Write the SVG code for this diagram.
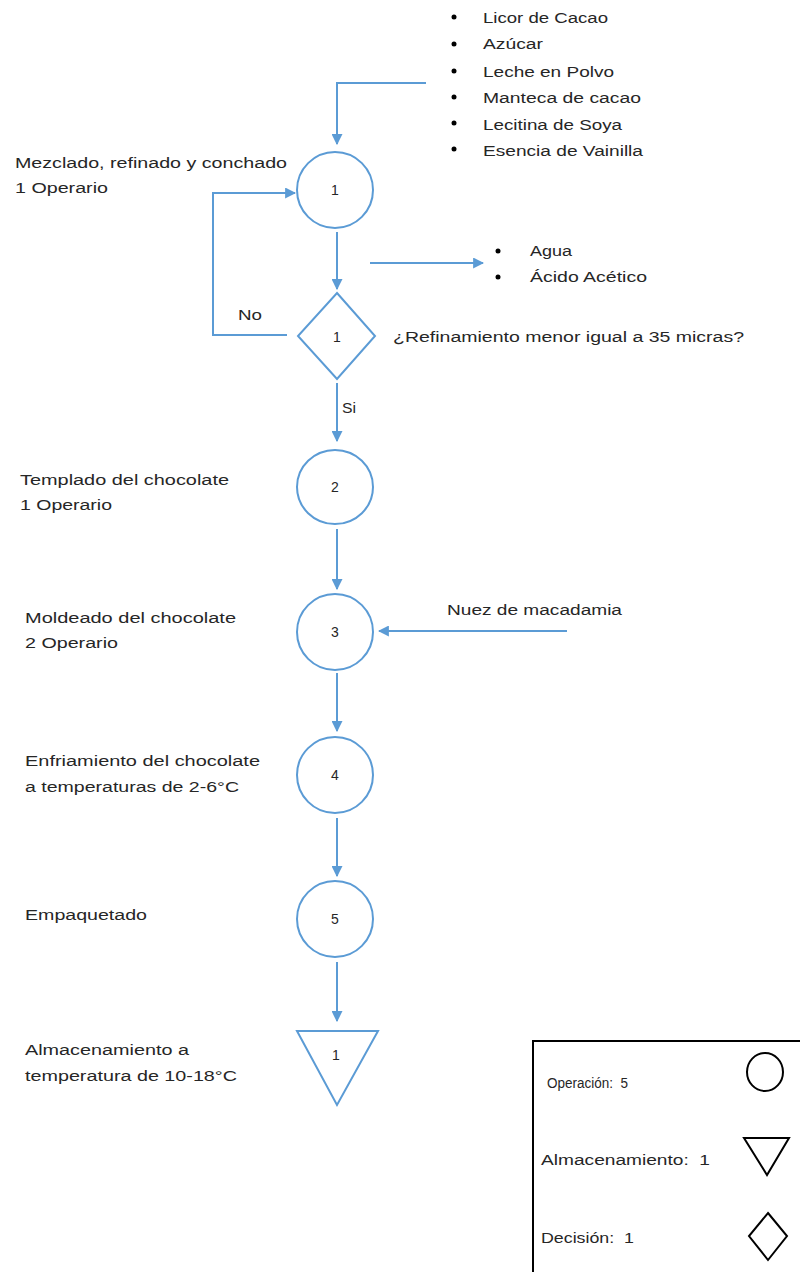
<svg xmlns="http://www.w3.org/2000/svg" width="800" height="1272" viewBox="0 0 800 1272">
<style>
text{font-family:"Liberation Sans",Arial,sans-serif;font-size:15.5px;fill:#262626}
.n{font-size:14px;text-anchor:middle}
.lg{font-size:14px}
.node{fill:none;stroke:#5B9BD5;stroke-width:2}
.leg{fill:none;stroke:#000;stroke-width:2}
.c{fill:none;stroke:#5B9BD5;stroke-width:2}
</style>
<defs>
<marker id="ah" viewBox="0 0 10 10" refX="9" refY="5" markerWidth="5.5" markerHeight="5.5" orient="auto" markerUnits="strokeWidth">
<path d="M0,0 L10,5 L0,10 z" fill="#5B9BD5"/>
</marker>
</defs>
<rect width="800" height="1272" fill="#fff"/>

<g id="inputs-top">
<circle cx="454" cy="17" r="2.5" fill="#000"/><text x="483" y="23" textLength="125" lengthAdjust="spacingAndGlyphs">Licor de Cacao</text>
<circle cx="454" cy="44" r="2.5" fill="#000"/><text x="483" y="49" textLength="60" lengthAdjust="spacingAndGlyphs">Azúcar</text>
<circle cx="454" cy="71" r="2.5" fill="#000"/><text x="483" y="77" textLength="131" lengthAdjust="spacingAndGlyphs">Leche en Polvo</text>
<circle cx="454" cy="97" r="2.5" fill="#000"/><text x="483" y="103" textLength="158" lengthAdjust="spacingAndGlyphs">Manteca de cacao</text>
<circle cx="454" cy="123" r="2.5" fill="#000"/><text x="483" y="130" textLength="139" lengthAdjust="spacingAndGlyphs">Lecitina de Soya</text>
<circle cx="454" cy="149" r="2.5" fill="#000"/><text x="483" y="156" textLength="160" lengthAdjust="spacingAndGlyphs">Esencia de Vainilla</text>
</g>

<g id="outputs">
<circle cx="498" cy="251" r="2.5" fill="#000"/><text x="530" y="256" textLength="42" lengthAdjust="spacingAndGlyphs">Agua</text>
<circle cx="498" cy="277" r="2.5" fill="#000"/><text x="530" y="282" textLength="117" lengthAdjust="spacingAndGlyphs">Ácido Acético</text>
</g>

<g id="op1">
<ellipse class="node" cx="335" cy="190" rx="38" ry="38"/>
<text class="n" x="335" y="195">1</text>
<text x="15" y="168" textLength="272" lengthAdjust="spacingAndGlyphs">Mezclado, refinado y conchado</text>
<text x="15" y="193" textLength="93" lengthAdjust="spacingAndGlyphs">1 Operario</text>
</g>

<g id="dec1">
<polygon class="node" points="337,293 375,336 337,379 298,336"/>
<text class="n" x="337" y="342">1</text>
<text x="393" y="342" textLength="351" lengthAdjust="spacingAndGlyphs">¿Refinamiento menor igual a 35 micras?</text>
</g>

<g id="op2">
<ellipse class="node" cx="335" cy="487" rx="38" ry="37"/>
<text class="n" x="335" y="492">2</text>
<text x="20" y="485" textLength="209" lengthAdjust="spacingAndGlyphs">Templado del chocolate</text>
<text x="20" y="510" textLength="92" lengthAdjust="spacingAndGlyphs">1 Operario</text>
</g>

<g id="op3">
<ellipse class="node" cx="335" cy="632" rx="38" ry="38"/>
<text class="n" x="335" y="637">3</text>
<text x="25" y="623" textLength="211" lengthAdjust="spacingAndGlyphs">Moldeado del chocolate</text>
<text x="25" y="648" textLength="93" lengthAdjust="spacingAndGlyphs">2 Operario</text>
<text x="447" y="615" textLength="175" lengthAdjust="spacingAndGlyphs">Nuez de macadamia</text>
</g>

<g id="op4">
<ellipse class="node" cx="335" cy="775" rx="38" ry="38"/>
<text class="n" x="335" y="780">4</text>
<text x="25" y="766" textLength="235" lengthAdjust="spacingAndGlyphs">Enfriamiento del chocolate</text>
<text x="25" y="792" textLength="214" lengthAdjust="spacingAndGlyphs">a temperaturas de 2-6°C</text>
</g>

<g id="op5">
<ellipse class="node" cx="335" cy="919" rx="38" ry="38"/>
<text class="n" x="335" y="924">5</text>
<text x="25" y="920" textLength="122" lengthAdjust="spacingAndGlyphs">Empaquetado</text>
</g>

<g id="store1">
<polygon class="node" points="297,1031 378,1031 337,1105"/>
<text class="n" x="336" y="1060">1</text>
<text x="25" y="1055" textLength="164" lengthAdjust="spacingAndGlyphs">Almacenamiento a</text>
<text x="25" y="1081" textLength="212" lengthAdjust="spacingAndGlyphs">temperatura de 10-18°C</text>
</g>

<g id="connectors">
<path class="c" d="M426,83 H337 V144" marker-end="url(#ah)"/>
<path class="c" d="M287,335 H213 V193 H295" marker-end="url(#ah)"/>
<text x="238" y="320" textLength="24" lengthAdjust="spacingAndGlyphs">No</text>
<path class="c" d="M337,232 V289" marker-end="url(#ah)"/>
<path class="c" d="M370,263 H483" marker-end="url(#ah)"/>
<path class="c" d="M337,383 V441" marker-end="url(#ah)"/>
<text x="342" y="413" textLength="14" lengthAdjust="spacingAndGlyphs">Si</text>
<path class="c" d="M337,529 V589" marker-end="url(#ah)"/>
<path class="c" d="M567,631 H379" marker-end="url(#ah)"/>
<path class="c" d="M337,673 V731" marker-end="url(#ah)"/>
<path class="c" d="M337,818 V876" marker-end="url(#ah)"/>
<path class="c" d="M337,962 V1021" marker-end="url(#ah)"/>
</g>

<g id="legend">
<rect class="leg" x="533" y="1041" width="300" height="260"/>
<text class="lg" x="547" y="1088" textLength="81" lengthAdjust="spacingAndGlyphs">Operación:&#160; 5</text>
<ellipse class="leg" cx="765" cy="1072" rx="18" ry="19"/>
<text class="lg" x="541" y="1165" textLength="169" lengthAdjust="spacingAndGlyphs">Almacenamiento:&#160; 1</text>
<polygon class="leg" points="744,1138 789,1138 767,1175"/>
<text class="lg" x="541" y="1243" textLength="93" lengthAdjust="spacingAndGlyphs">Decisión:&#160; 1</text>
<polygon class="leg" points="768,1213 787,1236 768,1260 749,1236"/>
</g>
</svg>
